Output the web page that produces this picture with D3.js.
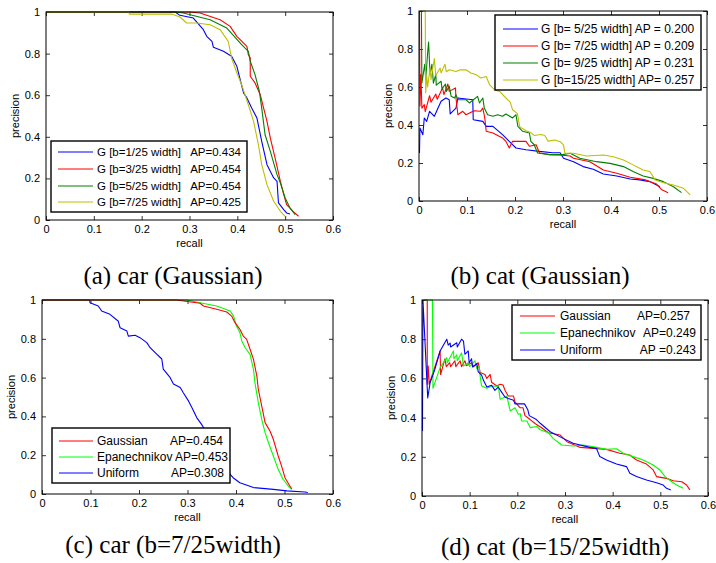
<!DOCTYPE html>
<html><head><meta charset="utf-8">
<script src="https://cdn.jsdelivr.net/npm/d3@7"></script>
<style>
html,body{margin:0;padding:0;background:#fff;}
svg{display:block;}
text{font-family:"Liberation Sans",Arial,Helvetica,sans-serif;}
.cap{font-family:"Liberation Serif","Times New Roman",serif;}
</style></head>
<body>
<svg id="chart" width="716" height="563"></svg>
<script>
// ---------- tick labels ----------
const xTicks = [0, 0.1, 0.2, 0.3, 0.4, 0.5, 0.6];
const yTicks = [0, 0.2, 0.4, 0.6, 0.8, 1];

// ---------- (a) car, Gaussian, [recall, precision] ----------
const carGaussB1 = [[0,1],[0.27,1],[0.28,0.984],[0.308,0.971],[0.329,0.915],[0.336,0.883],[0.347,0.859],[0.35,0.83],[0.371,0.811],[0.388,0.787],[0.399,0.739],[0.406,0.675],[0.413,0.611],[0.42,0.587],[0.43,0.538],[0.441,0.49],[0.451,0.378],[0.462,0.266],[0.476,0.202],[0.483,0.186],[0.486,0.082],[0.497,0.05],[0.503,0.034],[0.51,0.029]];
const carGaussB3 = [[0,1],[0.30,1],[0.322,0.995],[0.364,0.963],[0.385,0.931],[0.399,0.883],[0.42,0.835],[0.423,0.795],[0.427,0.78],[0.427,0.691],[0.437,0.659],[0.448,0.602],[0.455,0.538],[0.462,0.474],[0.469,0.394],[0.479,0.298],[0.49,0.186],[0.497,0.122],[0.503,0.074],[0.518,0.038],[0.528,0.018]];
const carGaussB5 = [[0,1],[0.27,1],[0.287,0.995],[0.343,0.963],[0.378,0.923],[0.409,0.843],[0.423,0.811],[0.427,0.763],[0.437,0.699],[0.446,0.619],[0.451,0.538],[0.458,0.41],[0.469,0.33],[0.483,0.218],[0.49,0.178],[0.5,0.106],[0.51,0.058],[0.521,0.026]];
const carGaussB7 = [[0,1],[0.174,1],[0.174,0.99],[0.263,0.99],[0.28,0.976],[0.294,0.947],[0.315,0.947],[0.343,0.939],[0.364,0.915],[0.381,0.859],[0.388,0.779],[0.399,0.707],[0.409,0.651],[0.423,0.554],[0.434,0.474],[0.444,0.362],[0.451,0.266],[0.462,0.17],[0.476,0.09],[0.49,0.042],[0.5,0.018]];
const carGaussLabels = ["G [b=1/25 width]","G [b=3/25 width]","G [b=5/25 width]","G [b=7/25 width]"];
const carGaussAP = ["AP=0.434","AP=0.454","AP=0.454","AP=0.425"];

// ---------- (b) cat, Gaussian ----------
const catGaussB5 = [[0.001,0.253],[0.002,0.384],[0.008,0.349],[0.011,0.437],[0.016,0.419],[0.022,0.472],[0.032,0.446],[0.046,0.525],[0.056,0.542],[0.063,0.533],[0.065,0.458],[0.077,0.489],[0.081,0.542],[0.112,0.533],[0.113,0.428],[0.133,0.419],[0.14,0.393],[0.154,0.393],[0.174,0.349],[0.188,0.314],[0.202,0.279],[0.223,0.27],[0.251,0.261],[0.278,0.254],[0.294,0.254],[0.301,0.225],[0.322,0.207],[0.342,0.181],[0.363,0.167],[0.384,0.142],[0.412,0.132],[0.44,0.116],[0.46,0.111],[0.481,0.102],[0.495,0.084],[0.502,0.075]];
const catGaussB7 = [[0.001,1.0],[0.002,0.5],[0.004,0.665],[0.006,0.489],[0.011,0.507],[0.013,0.47],[0.022,0.554],[0.025,0.52],[0.035,0.563],[0.038,0.535],[0.049,0.595],[0.052,0.56],[0.06,0.616],[0.063,0.577],[0.076,0.595],[0.077,0.542],[0.081,0.454],[0.091,0.472],[0.098,0.454],[0.115,0.475],[0.128,0.472],[0.133,0.489],[0.137,0.437],[0.14,0.367],[0.154,0.358],[0.174,0.332],[0.181,0.314],[0.188,0.279],[0.195,0.314],[0.223,0.314],[0.23,0.288],[0.244,0.296],[0.251,0.253],[0.272,0.244],[0.294,0.242],[0.315,0.237],[0.322,0.225],[0.356,0.207],[0.384,0.163],[0.412,0.146],[0.44,0.125],[0.472,0.111],[0.495,0.089],[0.505,0.061],[0.519,0.044]];
const catGaussB9 = [[0.003,1.0],[0.005,1.0],[0.006,0.62],[0.012,0.72],[0.014,0.64],[0.018,0.78],[0.02,0.837],[0.023,0.665],[0.027,0.72],[0.03,0.62],[0.035,0.665],[0.036,0.61],[0.046,0.63],[0.048,0.59],[0.055,0.616],[0.057,0.577],[0.063,0.605],[0.067,0.551],[0.074,0.542],[0.077,0.559],[0.081,0.533],[0.098,0.533],[0.105,0.516],[0.122,0.551],[0.126,0.516],[0.133,0.542],[0.136,0.489],[0.143,0.454],[0.154,0.446],[0.164,0.454],[0.174,0.446],[0.181,0.458],[0.195,0.437],[0.202,0.454],[0.206,0.393],[0.216,0.367],[0.23,0.358],[0.233,0.314],[0.24,0.296],[0.247,0.253],[0.272,0.244],[0.299,0.244],[0.315,0.251],[0.335,0.225],[0.37,0.207],[0.398,0.198],[0.426,0.181],[0.447,0.154],[0.467,0.132],[0.488,0.119],[0.509,0.102],[0.53,0.075],[0.547,0.044]];
const catGaussB15 = [[0.008,1.0],[0.013,1.0],[0.014,0.57],[0.016,0.66],[0.018,0.6],[0.023,0.70],[0.025,0.64],[0.032,0.75],[0.035,0.66],[0.044,0.70],[0.046,0.674],[0.054,0.72],[0.057,0.68],[0.063,0.691],[0.077,0.682],[0.085,0.69],[0.098,0.691],[0.108,0.674],[0.119,0.665],[0.129,0.647],[0.14,0.655],[0.147,0.612],[0.157,0.586],[0.168,0.577],[0.178,0.55],[0.19,0.52],[0.195,0.48],[0.205,0.46],[0.21,0.39],[0.223,0.37],[0.233,0.36],[0.24,0.345],[0.254,0.35],[0.262,0.345],[0.269,0.315],[0.283,0.321],[0.294,0.312],[0.301,0.295],[0.304,0.251],[0.322,0.251],[0.349,0.237],[0.384,0.242],[0.405,0.233],[0.426,0.216],[0.44,0.198],[0.467,0.163],[0.481,0.155],[0.492,0.111],[0.509,0.096],[0.53,0.084],[0.551,0.067],[0.558,0.049],[0.565,0.032]];
const catGaussLabels = ["G [b= 5/25 width] AP = 0.200","G [b= 7/25 width] AP = 0.209","G [b= 9/25 width] AP = 0.231","G [b=15/25 width] AP= 0.257"];

// ---------- (c) car, b=7/25 width ----------
const carKernGauss = [[0,1],[0.278,1],[0.292,0.995],[0.326,0.983],[0.333,0.969],[0.36,0.952],[0.381,0.938],[0.391,0.917],[0.398,0.883],[0.408,0.849],[0.415,0.814],[0.422,0.797],[0.429,0.746],[0.436,0.694],[0.443,0.608],[0.446,0.54],[0.453,0.454],[0.46,0.368],[0.47,0.325],[0.477,0.282],[0.487,0.196],[0.494,0.144],[0.501,0.084],[0.511,0.041],[0.515,0.027]];
const carKernEpan = [[0,1],[0.298,1],[0.326,0.986],[0.36,0.969],[0.388,0.943],[0.395,0.917],[0.401,0.866],[0.408,0.832],[0.412,0.789],[0.419,0.754],[0.429,0.72],[0.436,0.643],[0.439,0.574],[0.446,0.471],[0.453,0.385],[0.46,0.316],[0.467,0.264],[0.477,0.196],[0.487,0.127],[0.497,0.076],[0.508,0.041],[0.515,0.024]];
const carKernUnif = [[0,1],[0.098,1],[0.099,0.986],[0.116,0.969],[0.123,0.943],[0.14,0.926],[0.157,0.892],[0.161,0.857],[0.175,0.84],[0.178,0.814],[0.192,0.818],[0.202,0.806],[0.216,0.78],[0.223,0.754],[0.236,0.722],[0.247,0.696],[0.25,0.644],[0.264,0.601],[0.271,0.567],[0.285,0.549],[0.291,0.523],[0.302,0.48],[0.309,0.446],[0.319,0.394],[0.329,0.359],[0.336,0.33],[0.35,0.27],[0.365,0.19],[0.38,0.13],[0.388,0.101],[0.394,0.084],[0.408,0.058],[0.436,0.033],[0.477,0.024],[0.505,0.016],[0.542,0.01],[0.548,0.008]];
const kernelLabels = ["Gaussian","Epanechnikov","Uniform"];
const carKernAP = ["AP=0.454","AP=0.453","AP=0.308"];

// ---------- (d) cat, b=15/25 width ----------
const catKernGauss = [[0.004,1.0],[0.011,1.0],[0.011,0.57],[0.013,0.663],[0.015,0.57],[0.038,0.74],[0.039,0.62],[0.048,0.70],[0.051,0.66],[0.058,0.68],[0.06,0.66],[0.069,0.69],[0.071,0.66],[0.08,0.69],[0.083,0.66],[0.09,0.69],[0.093,0.665],[0.104,0.68],[0.108,0.66],[0.118,0.68],[0.122,0.63],[0.132,0.62],[0.136,0.6],[0.143,0.62],[0.146,0.58],[0.157,0.561],[0.164,0.57],[0.17,0.566],[0.174,0.54],[0.181,0.51],[0.192,0.51],[0.195,0.48],[0.206,0.45],[0.212,0.45],[0.216,0.41],[0.227,0.39],[0.237,0.37],[0.251,0.348],[0.265,0.323],[0.29,0.311],[0.304,0.277],[0.332,0.248],[0.36,0.243],[0.387,0.238],[0.415,0.218],[0.436,0.209],[0.45,0.184],[0.471,0.163],[0.485,0.133],[0.492,0.099],[0.513,0.09],[0.527,0.078],[0.545,0.073],[0.555,0.056],[0.562,0.031]];
const catKernEpan = [[0.004,1.0],[0.022,1.0],[0.023,0.55],[0.038,0.655],[0.052,0.706],[0.053,0.68],[0.066,0.74],[0.067,0.70],[0.073,0.72],[0.074,0.69],[0.083,0.73],[0.087,0.663],[0.097,0.68],[0.1,0.66],[0.111,0.69],[0.115,0.65],[0.12,0.66],[0.122,0.612],[0.125,0.561],[0.136,0.55],[0.146,0.56],[0.16,0.561],[0.164,0.493],[0.178,0.51],[0.185,0.434],[0.195,0.45],[0.202,0.417],[0.206,0.42],[0.209,0.383],[0.22,0.383],[0.227,0.349],[0.241,0.355],[0.248,0.338],[0.265,0.323],[0.275,0.294],[0.293,0.26],[0.317,0.255],[0.338,0.26],[0.366,0.248],[0.387,0.238],[0.408,0.241],[0.422,0.218],[0.443,0.201],[0.464,0.184],[0.485,0.158],[0.499,0.133],[0.51,0.099],[0.524,0.073],[0.534,0.056],[0.548,0.039]];
const catKernUnif = [[0.001,0.332],[0.002,1.0],[0.012,0.50],[0.017,0.578],[0.027,0.646],[0.038,0.74],[0.052,0.80],[0.055,0.77],[0.059,0.78],[0.06,0.76],[0.073,0.782],[0.074,0.76],[0.083,0.80],[0.087,0.79],[0.09,0.723],[0.097,0.74],[0.099,0.68],[0.104,0.70],[0.106,0.658],[0.115,0.675],[0.118,0.633],[0.125,0.617],[0.129,0.59],[0.136,0.556],[0.146,0.565],[0.153,0.539],[0.16,0.556],[0.167,0.53],[0.174,0.505],[0.181,0.497],[0.192,0.488],[0.195,0.47],[0.215,0.47],[0.222,0.44],[0.225,0.41],[0.24,0.39],[0.248,0.371],[0.269,0.328],[0.296,0.294],[0.317,0.269],[0.352,0.248],[0.366,0.243],[0.373,0.201],[0.387,0.184],[0.408,0.163],[0.429,0.15],[0.436,0.116],[0.45,0.099],[0.471,0.082],[0.492,0.068],[0.506,0.056],[0.513,0.039],[0.522,0.031]];
const catKernAP = ["AP=0.257","AP=0.249","AP =0.243"];

const captions = ["(a) car (Gaussian)","(b) cat (Gaussian)","(c) car (b=7/25width)","(d) cat (b=15/25width)"];

// ---------- layout / styling ----------
const C = {blue:"#0000ff", red:"#ff0000", dgreen:"#008000", yellow:"#bfbf00", green:"#00ff00"};

const panels = [
  {box:[46,333,12,220], series:[carGaussB1,carGaussB3,carGaussB5,carGaussB7], colors:[C.blue,C.red,C.dgreen,C.yellow],
   legend:{box:[51,141,196,71], rows:[152,169,186,202], line:[58,93], tx:97, labels:carGaussLabels, ap:carGaussAP, apEnd:[241,241,241,241], fs:11.5},
   caption:{x:173, y:284}},
  {box:[419,707,11,201], series:[catGaussB5,catGaussB7,catGaussB9,catGaussB15], colors:[C.blue,C.red,C.dgreen,C.yellow],
   legend:{box:[495,15,206,75], rows:[29,46,63,80], line:[503,538], tx:541, labels:catGaussLabels, ap:null, fs:12},
   caption:{x:540, y:284}},
  {box:[42,333,300,494], series:[carKernUnif,carKernEpan,carKernGauss], colors:[C.blue,C.green,C.red],
   legend:{box:[52,428,178,55], rows:[441,457,473], line:[59,93], tx:97, labels:kernelLabels, ap:carKernAP, apEnd:[223,228,224], fs:12, colors:[C.red,C.green,C.blue]},
   caption:{x:173, y:553}},
  {box:[422,708,300,496], series:[catKernGauss,catKernEpan,catKernUnif], colors:[C.red,C.green,C.blue],
   legend:{box:[512,305,189,55], rows:[316,333,350], line:[520,555], tx:560, labels:kernelLabels, ap:catKernAP, apEnd:[690,696,696], fs:12, colors:[C.red,C.green,C.blue]},
   caption:{x:555, y:555}}
];

const svg = d3.select("#chart");
svg.append("rect").attr("width",716).attr("height",563).attr("fill","#fff");

panels.forEach((p, i) => {
  const [x0,x1,y0,y1] = p.box;
  const x = d3.scaleLinear().domain([0,0.6]).range([x0,x1]);
  const y = d3.scaleLinear().domain([0,1]).range([y1,y0]);
  const g = svg.append("g");
  const fmt = d => String(+d.toFixed(1));

  // axes with inward ticks
  const ax = (gen, tr) => g.append("g").attr("transform", tr).call(gen)
      .call(s => s.select(".domain").remove())
      .call(s => s.selectAll(".tick line").attr("stroke","#000").attr("stroke-width",0.8))
      .call(s => s.selectAll("text").attr("fill","#000").style("font-size","11px")
                   .style("font-family",'"Liberation Sans",Arial,sans-serif'));
  ax(d3.axisBottom(x).tickValues(xTicks).tickSize(-4).tickPadding(5).tickFormat(fmt), `translate(0,${y1})`);
  ax(d3.axisTop(x).tickValues(xTicks).tickSize(-4).tickFormat(""), `translate(0,${y0})`);
  ax(d3.axisLeft(y).tickValues(yTicks).tickSize(-4).tickPadding(6).tickFormat(fmt), `translate(${x0},0)`);
  ax(d3.axisRight(y).tickValues(yTicks).tickSize(-4).tickFormat(""), `translate(${x1},0)`);

  // curves
  const line = d3.line().x(d => x(d[0])).y(d => y(d[1]));
  const clipId = "clip"+i;
  g.append("clipPath").attr("id",clipId).append("rect")
    .attr("x",x0).attr("y",y0-1).attr("width",x1-x0).attr("height",y1-y0+1);
  p.series.forEach((s, k) => {
    g.append("path").datum(s).attr("d", line).attr("fill","none")
      .attr("stroke", p.colors[k]).attr("stroke-width",1.1).attr("stroke-linejoin","round")
      .attr("clip-path",`url(#${clipId})`);
  });

  // box
  g.append("rect").attr("x",x0).attr("y",y0).attr("width",x1-x0).attr("height",y1-y0)
    .attr("fill","none").attr("stroke","#000").attr("stroke-width",1);

  // axis titles
  g.append("text").attr("x",(x0+x1)/2).attr("y",y1+27).attr("text-anchor","middle")
    .style("font-size","11px").text("recall");
  g.append("text").attr("transform",`translate(${x0-31},${(y0+y1)/2}) rotate(-90)`)
    .attr("text-anchor","middle").attr("dy","0.35em").style("font-size","11px").text("precision");

  // legend
  const L = p.legend;
  const lc = L.colors || p.colors;
  g.append("rect").attr("x",L.box[0]).attr("y",L.box[1]).attr("width",L.box[2]).attr("height",L.box[3])
    .attr("fill","#fff").attr("stroke","#000").attr("stroke-width",1.4);
  L.rows.forEach((ry, k) => {
    g.append("line").attr("x1",L.line[0]).attr("x2",L.line[1]).attr("y1",ry).attr("y2",ry)
      .attr("stroke", lc[k]).attr("stroke-width",1.2);
    g.append("text").attr("x",L.tx).attr("y",ry).attr("dy","0.36em")
      .style("font-size",L.fs+"px").style("white-space","pre").text(L.labels[k]);
    if (L.ap) g.append("text").attr("x",L.apEnd[k]).attr("y",ry).attr("dy","0.36em")
      .attr("text-anchor","end").style("font-size",L.fs+"px").style("white-space","pre").text(L.ap[k]);
  });

  // caption
  g.append("text").attr("class","cap").attr("x",p.caption.x).attr("y",p.caption.y)
    .attr("text-anchor","middle").style("font-size","25px").text(captions[i]);
});
</script>
</body></html>
